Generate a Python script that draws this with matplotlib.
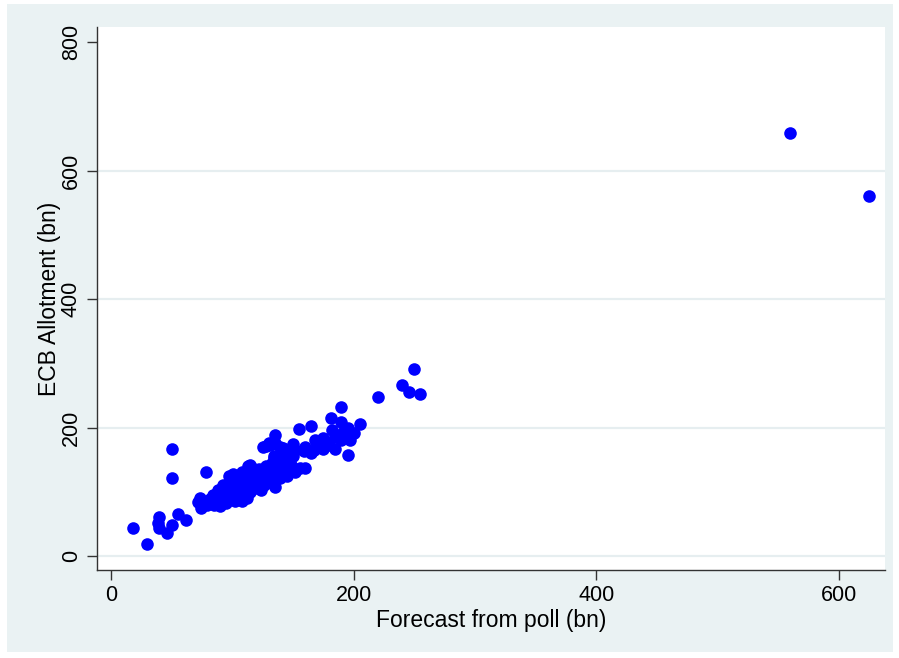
import matplotlib
matplotlib.use("Agg")
import matplotlib.pyplot as plt
from matplotlib.patches import Rectangle

# === Données (bn) ===
forecast = [
    18, 30, 40, 39, 40, 46, 50, 55, 62, 50, 50, 78,
    73, 74, 79, 84, 87, 76, 72, 90, 88, 98, 101, 102, 112, 115, 124, 135, 127, 139, 152,
    82, 85, 90, 93, 95, 96, 98, 100, 102, 104, 105, 106, 108, 110, 110, 112, 113, 115, 115,
    117, 118, 120, 120, 122, 123, 125, 126, 128, 130, 130, 132, 133, 135, 137, 138, 140, 142,
    144, 145, 148, 150, 92, 97, 103, 108, 113, 118, 108, 100, 95,
    128, 135, 130, 135, 125, 139, 134, 145, 131, 134, 137, 146, 150, 156, 160, 159, 167, 175,
    185, 195, 146, 155, 165, 168, 175, 182, 181, 190, 190, 190, 197, 200, 205, 220, 240, 246,
    255, 250, 560, 625,
    140, 152, 160, 170, 178, 185, 192, 195, 188, 180, 165, 142,
]
allotment = [
    43, 18, 61, 51, 43, 35, 48, 65, 56, 167, 121, 131,
    90, 74, 79, 95, 82, 79, 84, 77, 103, 118, 128, 85, 90, 142, 103, 108, 113, 121, 131,
    88, 80, 92, 98, 88, 105, 95, 100, 110, 92, 120, 98, 104, 115, 95, 125, 108, 100, 130,
    118, 112, 125, 105, 135, 118, 128, 110, 140, 122, 132, 115, 145, 125, 135, 140, 130, 145,
    138, 125, 142, 155, 110, 125, 115, 130, 140, 135, 85, 90, 82,
    171, 176, 176, 189, 169, 170, 152, 147, 173, 155, 129, 150, 174, 137, 137, 163, 165, 166,
    166, 157, 160, 197, 203, 181, 183, 196, 215, 209, 232, 181, 181, 191, 205, 248, 266, 255,
    252, 291, 659, 560,
    160, 165, 170, 175, 178, 185, 195, 200, 188, 172, 160, 168,
]

x_ticks = [0, 200, 400, 600]
y_ticks = [0, 200, 400, 600, 800]

plt.rcParams['font.family'] = ['Liberation Sans', 'DejaVu Sans']

fig = plt.figure(figsize=(8.99, 6.58), dpi=100)
fig.patch.set_facecolor("white")
# fond gris-bleu façon Stata (derrière les axes)
fig.patches.append(Rectangle((7 / 899, 6 / 658), 886 / 899, 648 / 658,
                             transform=fig.transFigure, facecolor="#EAF2F3",
                             edgecolor="none", zorder=-10))

ax = fig.add_axes([97 / 899, 88 / 658, 788 / 899, 543 / 658])
ax.set_facecolor("white")

ax.scatter(forecast, allotment, s=82, color="#0000FF", linewidths=0, zorder=3)

ax.set_xlim(-11.5, 638)
ax.set_ylim(-22, 824)
ax.set_xticks(x_ticks)
ax.set_yticks(y_ticks)

for y in y_ticks[:-1]:
    ax.axhline(y, color="#E6EEF0", lw=1.6, zorder=1)

for s in ["top", "right"]:
    ax.spines[s].set_visible(False)
for s in ["left", "bottom"]:
    ax.spines[s].set_color("#333333")
    ax.spines[s].set_linewidth(1.0)

ax.tick_params(axis="both", length=7, width=1, color="#333333", labelsize=15.5, pad=4)
plt.setp(ax.get_yticklabels(), rotation=90, va="center")

ax.set_xlabel("Forecast from poll (bn)", fontsize=16.5, labelpad=2)
ax.set_ylabel("ECB Allotment (bn)", fontsize=16.5, labelpad=0)

fig.savefig("out.png", dpi=100)
